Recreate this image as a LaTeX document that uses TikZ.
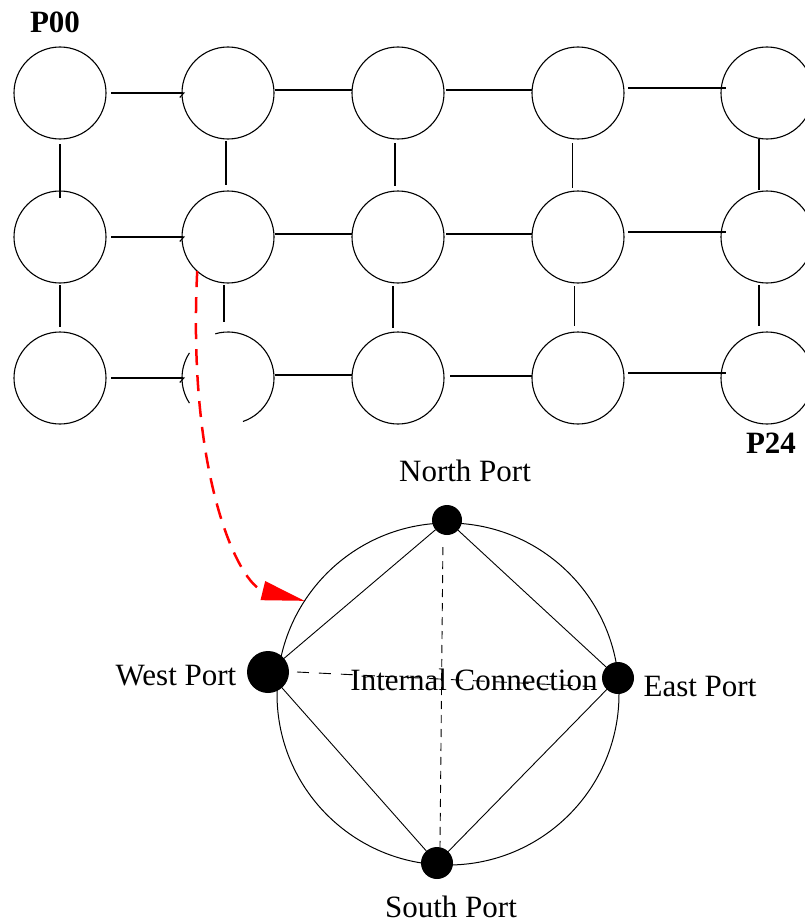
\documentclass[tikz,border=0pt]{standalone}
\usepackage{fontspec}
\setmainfont{Liberation Serif}
\usetikzlibrary{arrows.meta}
\begin{document}
\begin{tikzpicture}[x=1pt,y=1pt,
  gnode/.style={circle,draw,line width=1.1pt,minimum size=92pt,inner sep=0pt,outer sep=0pt},
  hidden/.style={circle,minimum size=92pt,inner sep=0pt,outer sep=0pt},
  link/.style={line width=1.1pt},
  barb/.style={link,-{Straight Barb[right,length=4pt,width=9pt]}},
  port/.style={circle,fill=black,inner sep=0pt,outer sep=0pt},
  wire/.style={line width=0.9pt},
  lbl/.style={anchor=base,inner sep=0pt,font=\fontsize{31}{31}\selectfont},
  plbl/.style={anchor=base,inner sep=0pt,font=\fontsize{31}{31}\selectfont\bfseries},
]
\useasboundingbox (0,0) rectangle (805,-923);

% grid of processors
\node[gnode] (g11) at (60,-93) {};
\node[gnode] (g12) at (228,-93) {};
\node[gnode] (g13) at (398,-93) {};
\node[gnode] (g14) at (578,-93) {};
\node[gnode] (g15) at (767,-93) {};
\node[gnode] (g21) at (60,-237) {};
\node[gnode] (g22) at (228,-237) {};
\node[gnode] (g23) at (398,-237) {};
\node[gnode] (g24) at (578,-237) {};
\node[gnode] (g25) at (767,-237) {};
\node[gnode] (g31) at (60,-378) {};
\node[hidden] (g32) at (228,-378) {};
\node[gnode] (g33) at (398,-378) {};
\node[gnode] (g34) at (578,-378) {};
\node[gnode] (g35) at (767,-378) {};

% broken circle
\draw[link] (g32.106) arc[start angle=106,end angle=-71,radius=46pt];
\draw[link] (g32.147) arc[start angle=147,end angle=213,radius=46pt];

\node[plbl] (p00) at (55,-33) {P00};
\node[plbl] (p24) at (771,-453) {P24};

% horizontal links
\foreach \r in {1,2,3}{
  \draw[barb] ([xshift=5pt]g\r1.east) -- ([xshift=3pt]g\r2.west);
  \draw[link] ([xshift=1pt,yshift=3pt]g\r2.east) -- ([yshift=3pt]g\r3.west);
  \draw[link] ([xshift=4pt,yshift=5pt]g\r4.east) -- ([xshift=5pt,yshift=5pt]g\r5.west);
}
\draw[link] ([xshift=2pt,yshift=3pt]g13.east) -- ([yshift=3pt]g14.west);
\draw[link] ([xshift=2pt,yshift=3pt]g23.east) -- ([yshift=3pt]g24.west);
\draw[link] ([xshift=6pt,yshift=2pt]g33.east) -- ([yshift=2pt]g34.west);

% vertical links
\draw[link,shorten <=5pt,shorten >=-7pt] (g11.south) -- (g21.north);
\draw[link,shorten <=2pt,shorten >=5pt] (g21.south) -- (g31.north);
\draw[link,shorten <=2pt,shorten >=6pt] ([xshift=-2pt]g12.south) -- ([xshift=-2pt]g22.north);
\draw[link,shorten <=2pt,shorten >=10pt] ([xshift=-4pt]g22.south) -- ([xshift=-4pt]g32.north);
\draw[link,shorten <=4pt,shorten >=5pt] ([xshift=-3pt]g13.south) -- ([xshift=-3pt]g23.north);
\draw[link,shorten <=3pt,shorten >=4pt] ([xshift=-5pt]g23.south) -- ([xshift=-5pt]g33.north);
\draw[link,shorten <=4pt,shorten >=3pt] ([xshift=-5.5pt]g14.south) -- ([xshift=-5.5pt]g24.north);
\draw[link,shorten <=3pt,shorten >=6pt] ([xshift=-3.5pt]g24.south) -- ([xshift=-3.5pt]g34.north);
\draw[link,shorten <=0pt,shorten >=1pt] ([xshift=-8pt]g15.south) -- ([xshift=-8pt]g25.north);
\draw[link,shorten <=2pt,shorten >=6pt] ([xshift=-8pt]g25.south) -- ([xshift=-8pt]g35.north);

% router detail
\node[circle,draw,line width=1pt,minimum size=342pt,inner sep=0pt,outer sep=0pt] (router) at (448,-694) {};
\node[port,minimum size=30pt] (N) at (447,-520) {};
\node[port,minimum size=42pt] (W) at (268,-672) {};
\node[port,minimum size=32pt] (E) at (618,-678) {};
\node[port,minimum size=32pt] (S) at (437,-863) {};

\draw[wire] (N) -- (E) -- (S) -- (W) -- (N);
\draw[wire,dash pattern=on 8pt off 6pt,shorten <=12pt] ([xshift=-4pt]N.south) -- ([xshift=3pt]S.north);
\draw[wire,dash pattern=on 12pt off 10pt] ([xshift=8pt]W.east) -- ([yshift=-9pt]E.west);

\node[lbl] (ic) at (474,-690) {Internal Connection};
\node[lbl] (nl) at (465,-481) {North Port};
\node[lbl] (wl) at (176,-685) {West Port};
\node[lbl] (el) at (700,-696) {East Port};
\node[lbl] (sl) at (451,-917) {South Port};

% zoom arrow
\draw[red,line width=2.5pt,dash pattern=on 16pt off 10pt,-{Triangle[length=43pt,width=19pt]}]
  (g22.-132) .. controls (187,-480) and (240,-585) .. (router.147);
\end{tikzpicture}
\end{document}
